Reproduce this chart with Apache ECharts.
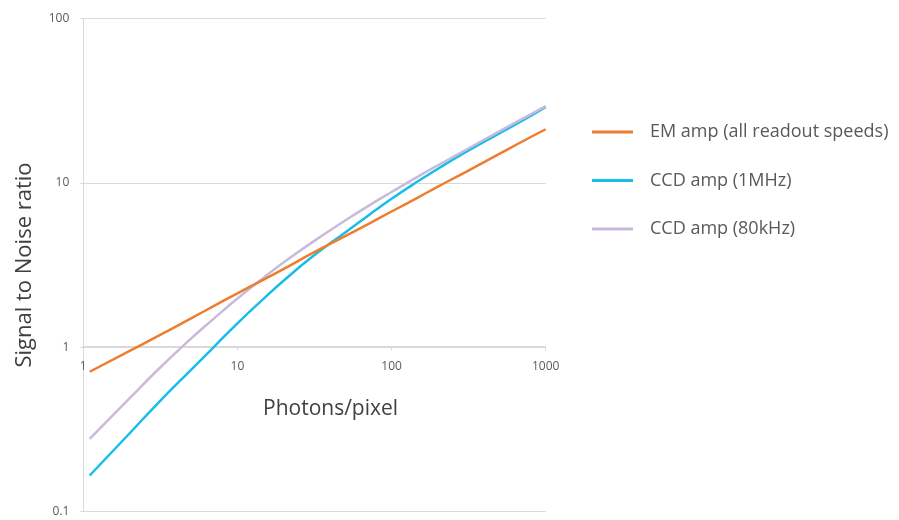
<!DOCTYPE html>
<html>
<head>
<meta charset="utf-8">
<script src="https://cdn.jsdelivr.net/npm/echarts@6/dist/echarts.min.js"></script>
<style>
html,body{margin:0;padding:0;background:#fff;}
#chart{width:899px;height:520px;}
</style>
</head>
<body>
<div id="chart"></div>
<script>
// Photons per pixel (x)
var photons = [1.1, 2, 3, 5, 7, 10, 15, 20, 30, 50, 70, 100, 150, 200, 300, 500, 700, 1000];
// Signal to noise ratio values
var emAmp   = [0.71, 0.95, 1.16, 1.5, 1.78, 2.13, 2.6, 3.0, 3.7, 4.75, 5.6, 6.7, 8.2, 9.5, 11.6, 15.0, 17.8, 21.2];
var ccd1MHz = [0.166, 0.30, 0.45, 0.73, 1.0, 1.4, 2.0, 2.55, 3.5, 5.0, 6.3, 8.0, 10.3, 12.2, 15.3, 20.0, 23.8, 29.0];
var ccd80k  = [0.277, 0.49, 0.72, 1.13, 1.49, 1.98, 2.68, 3.29, 4.3, 5.9, 7.2, 8.8, 11.0, 12.8, 15.8, 20.6, 24.4, 29.3];
var seriesNames = ['EM amp (all readout speeds)', 'CCD amp (1MHz)', 'CCD amp (80kHz)'];
var xTitle = 'Photons/pixel';
var yTitle = 'Signal to Noise ratio';

function pairs(ys){ return photons.map(function(x,i){ return [x, ys[i]]; }); }

var colors = ['#ED7D31', '#18BDEA', '#C9BADB'];
var FONT = '"Open Sans", sans-serif';

var chart = echarts.init(document.getElementById('chart'));
chart.setOption({
  animation: false,
  backgroundColor: '#ffffff',
  grid: { left: 83.3, right: 353.3, top: 18.5, bottom: 8.3, containLabel: false },
  xAxis: {
    type: 'log', logBase: 10, min: 1, max: 1000,
    offset: -165,
    axisLine: { show: true, lineStyle: { color: '#d9d9d9', width: 1 } },
    axisTick: { show: true, length: 4, lineStyle: { color: '#d9d9d9' } },
    axisLabel: { color: '#595959', fontSize: 12, fontFamily: FONT, margin: 14, showMinLabel: true, showMaxLabel: true,
                 formatter: function(v){ return String(v); } },
    splitLine: { show: false },
    minorTick: { show: false }
  },
  yAxis: {
    type: 'log', logBase: 10, min: 0.1, max: 100,
    axisLine: { show: true, lineStyle: { color: '#d9d9d9', width: 1 } },
    axisTick: { show: true, length: 3, lineStyle: { color: '#d9d9d9' } },
    axisLabel: { color: '#595959', fontSize: 12, fontFamily: FONT, margin: 14, formatter: function(v){ return String(v); } },
    splitLine: { show: true, lineStyle: { color: '#d9d9d9', width: 1 } }
  },
  legend: {
    orient: 'vertical',
    left: 587, top: 117,
    itemWidth: 41, itemHeight: 3,
    itemGap: 28.5,
    icon: 'rect',
    textStyle: { color: '#595959', fontSize: 18, fontFamily: FONT, lineHeight: 20, padding: [0,0,0,12] },
    data: seriesNames
  },
  graphic: [
    { type: 'text', left: 263, top: 399, style: { text: xTitle, fill: '#404040', font: '21px ' + FONT } },
    { type: 'text', x: 25, y: 265, rotation: Math.PI/2, style: { text: yTitle, fill: '#404040', font: '22px ' + FONT, align: 'center', verticalAlign: 'middle' } }
  ],
  series: [
    { name: seriesNames[1], type: 'line', data: pairs(ccd1MHz), showSymbol: false, smooth: true, lineStyle: { color: colors[1], width: 2.5 }, itemStyle: { color: colors[1] }, z: 2 },
    { name: seriesNames[2], type: 'line', data: pairs(ccd80k), showSymbol: false, smooth: true, lineStyle: { color: colors[2], width: 2.5 }, itemStyle: { color: colors[2] }, z: 3 },
    { name: seriesNames[0], type: 'line', data: pairs(emAmp), showSymbol: false, smooth: true, lineStyle: { color: colors[0], width: 2.5 }, itemStyle: { color: colors[0] }, z: 4 }
  ]
});
</script>
</body>
</html>
